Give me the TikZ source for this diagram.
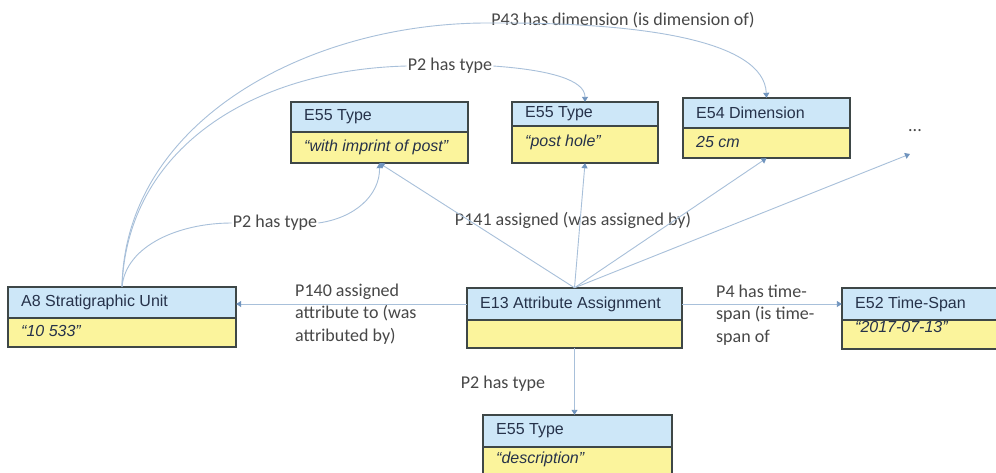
\documentclass[tikz,border=0pt]{standalone}
\usepackage{fontspec}
\setmainfont{Liberation Sans}
\newfontfamily\lblfont{Carlito}
\usetikzlibrary{arrows.meta,fit,calc}

\definecolor{hdr}{HTML}{CDE7F8}
\definecolor{bdy}{HTML}{FBF49C}
\definecolor{edge}{HTML}{3E4747}
\definecolor{conn}{HTML}{A8C0DA}
\definecolor{tip}{HTML}{7094BE}
\definecolor{lbltext}{HTML}{474747}
\definecolor{boxtext}{HTML}{26324A}

\tikzset{
  link/.style={draw=conn, line width=0.9pt, -{Triangle[width=6pt,length=5pt,color=tip]}},
  plain/.style={draw=conn, line width=0.9pt},
  rel/.style={font=\lblfont\fontsize{18}{22.5}\selectfont, text=lbltext, inner sep=1pt},
  hdrtext/.style={font=\fontsize{16}{19}\selectfont, text=boxtext, anchor=west, inner sep=0pt},
  bodytext/.style={font=\fontsize{16}{19}\selectfont\itshape, text=boxtext, anchor=west, inner sep=0pt},
  frame/.style={draw=edge, line width=1.4pt},
}

% class box: name, x1, y1, x2, y2, divider y, class name, value, value y
\newcommand{\crmbox}[9]{%
  \fill[hdr] (#2,#3) rectangle (#4,#6);
  \fill[bdy] (#2,#6) rectangle (#4,#5);
  \draw[frame] (#2,#6) -- (#4,#6);
  \draw[frame] (#2,#3) rectangle (#4,#5);
  \node[fit={(#2,#3) (#4,#5)}, inner sep=0pt] (#1) {};
  \node[hdrtext] (#1-h) at ({#2+13},{(#3+#6)/2}) {#7};
  \node[bodytext] (#1-b) at ({#2+13},#9) {#8};
}

\begin{document}
\begin{tikzpicture}[x=1pt,y=-1pt]
\useasboundingbox (0,0) rectangle (996,472);
\clip (0,0) rectangle (996,472);
\fill[white] (0,0) rectangle (996,472);

% labels of the properties
\node[rel] (p43) at (623,20) {P43 has dimension (is dimension of)};
\node[rel] (p2top) at (450,66) {P2 has type};
\node[rel] (p2a8) at (275,223) {P2 has type};
\node[rel] (p141) at (573,220) {P141 assigned (was assigned by)};
\node[rel, align=left, anchor=west] (p140) at (294,314) {P140 assigned\\attribute to (was\\attributed by)};
\node[rel, align=left, anchor=west] (p4) at (715,315) {P4 has time-\\span (is time-\\span of};
\node[rel] (p2bot) at (503,384) {P2 has type};
\node[rel] (dots) at (915,131) {...};
\coordinate (dotsend) at (910,154);

% classes
\crmbox{imp}{291}{102}{468}{163}{132}{E55 Type}{“with imprint of post”}{147}
\crmbox{post}{512}{102}{658}{163}{126}{E55 Type}{“post hole”}{142}
\crmbox{dim}{683}{98}{850}{158}{128}{E54 Dimension}{25 cm}{142}
\crmbox{a8}{8}{287}{236}{347}{318}{A8 Stratigraphic Unit}{“10 533”}{331}
\crmbox{e13}{467}{288}{682}{348}{320}{E13 Attribute Assignment}{}{334}
\crmbox{e52}{842}{288}{1005}{349}{320}{E52 Time-Span}{“2017-07-13”}{327}
\crmbox{desc}{483}{415}{672}{480}{447}{E55 Type}{“description”}{459}

% curved properties from the stratigraphic unit
\draw[link] (a8.north) .. controls (125,120) and (310,22) .. ([yshift=-3pt]p43.west)
  .. controls (640,22) and (764,40) .. (dim.north);
\draw[plain] (a8.north) .. controls (127,150) and (250,70) .. (p2top.west);
\draw[link] (p2top.east) .. controls (550,70) and (585,80) .. (post.north);
\draw[plain] (a8.north) .. controls (126,245) and (180,223) .. (p2a8.west);
\draw[link] (p2a8.east) .. controls (355,218) and (380,195) .. (imp.south);

% P141 assigned
\draw[link] (e13.north) -- (imp.south);
\draw[link] (e13.north) -- (post.south);
\draw[link] (e13.north) -- (dim.south);
\draw[link] (e13.north) -- (dotsend);

% straight properties of the attribute assignment
\draw[link] (e13.west |- e13-h) -- (a8.east |- e13-h);
\draw[link] (e13.east |- e13-h) -- (e52.west |- e13-h);
\draw[link] (e13.south) -- (e13.south |- desc.north);
\end{tikzpicture}
\end{document}
